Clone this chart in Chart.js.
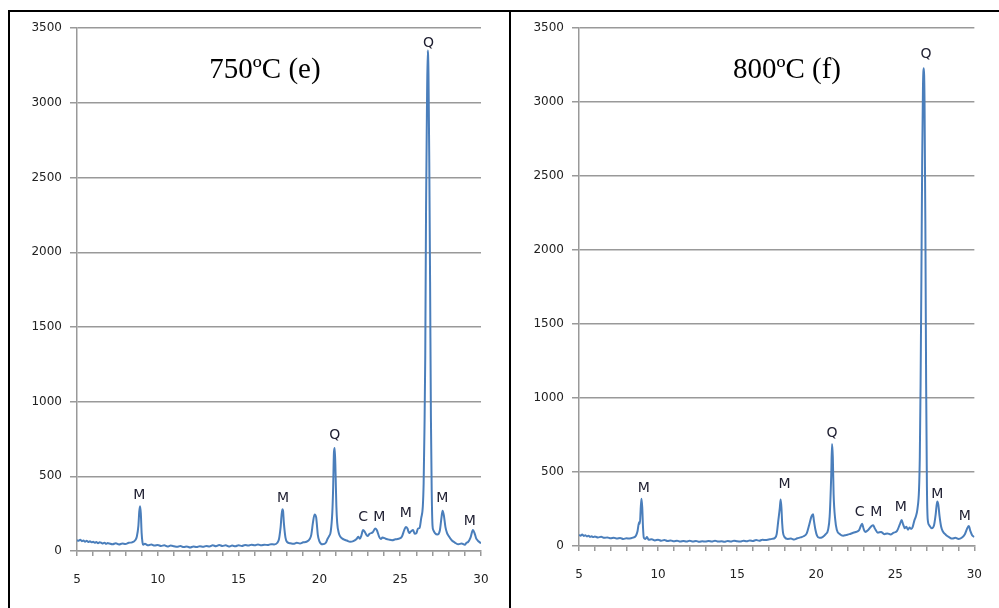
<!DOCTYPE html>
<html>
<head>
<meta charset="utf-8">
<script src="https://cdn.jsdelivr.net/npm/chart.js@4"></script>
<style>
  body { margin: 0; background: #fff; }
  #page { position: relative; width: 999px; height: 608px; overflow: hidden; }
  .line { position: absolute; background: #000; }
  canvas { position: absolute; }
  .title { position: absolute; width: 200px; text-align: center; font-family: "Liberation Serif", serif; font-size: 29px; line-height: 36px; color: #000; }
</style>
</head>
<body>
<div id="page">
  <div class="line" style="left:8px;top:10px;width:991px;height:2px"></div>
  <div class="line" style="left:8px;top:10px;width:2px;height:598px"></div>
  <div class="line" style="left:509px;top:10px;width:2px;height:598px"></div>
  <canvas id="chart750" style="left:10px;top:13px" width="498" height="595"></canvas>
  <canvas id="chart800" style="left:512px;top:13px" width="487" height="595"></canvas>
  <div class="title" style="left:165px;top:50px">750ºC (e)</div>
  <div class="title" style="left:687px;top:50px">800ºC (f)</div>
</div>
<script>
// 2-theta (deg) and intensity
const x750 = [5.0,5.1,5.2,5.3,5.4,5.5,5.6,5.7,5.8,5.9,6.0,6.1,6.2,6.3,6.4,6.5,6.6,6.7,6.8,6.9,7.0,7.2,7.4,7.6,7.8,8.0,8.2,8.4,8.6,8.7,8.8,8.85,8.9,8.95,9.0,9.05,9.1,9.2,9.4,9.6,9.8,10.0,10.2,10.4,10.6,10.8,11.0,11.2,11.4,11.6,11.8,12.0,12.2,12.4,12.6,12.8,13.0,13.2,13.4,13.6,13.8,14.0,14.2,14.4,14.6,14.8,15.0,15.2,15.4,15.6,15.8,16.0,16.2,16.4,16.6,16.8,17.0,17.2,17.4,17.5,17.6,17.7,17.75,17.8,17.9,18.0,18.2,18.4,18.6,18.8,19.0,19.2,19.4,19.5,19.6,19.7,19.8,19.85,19.9,20.0,20.2,20.4,20.5,20.6,20.7,20.8,20.85,20.9,20.95,21.0,21.05,21.1,21.2,21.3,21.5,21.7,21.9,22.1,22.3,22.4,22.5,22.6,22.7,22.8,22.9,23.0,23.1,23.3,23.45,23.55,23.7,23.8,23.9,24.1,24.3,24.5,24.7,24.9,25.1,25.25,25.35,25.45,25.55,25.65,25.8,25.9,26.0,26.1,26.2,26.3,26.4,26.45,26.5,26.55,26.6,26.65,26.7,26.75,26.8,26.85,26.9,26.95,27.0,27.05,27.15,27.3,27.45,27.55,27.62,27.7,27.8,27.9,28.0,28.2,28.4,28.6,28.8,29.0,29.1,29.2,29.35,29.5,29.6,29.7,29.8,29.9,30.0];
const y750 = [72,68,75,66,70,62,68,60,65,58,62,55,60,52,58,55,50,56,48,53,50,45,52,44,50,47,55,58,72,95,170,260,300,250,120,60,42,48,38,44,36,40,34,38,30,36,32,28,34,26,30,24,30,26,32,28,34,30,38,32,40,34,38,30,36,32,38,34,40,36,42,38,44,38,42,40,46,44,55,80,160,280,270,190,90,60,52,48,55,50,58,62,80,110,190,245,225,170,110,65,45,55,80,100,130,260,420,660,690,520,300,190,120,95,78,70,62,66,80,95,82,105,140,130,110,100,115,125,150,140,95,80,90,82,76,72,78,82,95,140,160,150,120,130,140,115,120,150,155,220,300,450,800,1300,2300,2900,3350,3200,2600,1800,900,400,170,140,120,110,135,220,270,240,160,120,100,70,55,45,50,42,55,60,90,140,120,85,70,60,52];

const x800 = [5.0,5.1,5.2,5.3,5.4,5.5,5.6,5.7,5.8,5.9,6.0,6.2,6.4,6.6,6.8,7.0,7.2,7.4,7.6,7.8,8.0,8.2,8.4,8.6,8.7,8.8,8.85,8.9,8.95,9.0,9.05,9.1,9.2,9.3,9.4,9.6,9.8,10.0,10.2,10.4,10.6,10.8,11.0,11.2,11.4,11.6,11.8,12.0,12.2,12.4,12.6,12.8,13.0,13.2,13.4,13.6,13.8,14.0,14.2,14.4,14.6,14.8,15.0,15.2,15.4,15.6,15.8,16.0,16.2,16.4,16.6,16.8,17.0,17.2,17.4,17.5,17.6,17.7,17.75,17.8,17.85,17.9,18.0,18.2,18.4,18.6,18.8,19.0,19.2,19.4,19.55,19.7,19.8,19.85,19.95,20.05,20.2,20.4,20.6,20.75,20.85,20.95,21.0,21.05,21.1,21.2,21.3,21.5,21.7,21.9,22.1,22.3,22.5,22.7,22.8,22.9,23.0,23.1,23.3,23.5,23.6,23.7,23.9,24.1,24.3,24.5,24.7,24.9,25.1,25.3,25.4,25.5,25.6,25.7,25.8,25.9,26.0,26.1,26.2,26.3,26.4,26.5,26.55,26.6,26.65,26.7,26.75,26.8,26.85,26.9,26.95,27.0,27.05,27.15,27.3,27.45,27.55,27.65,27.72,27.8,27.9,28.0,28.2,28.4,28.6,28.8,29.0,29.2,29.4,29.55,29.65,29.75,29.85,30.0];
const y800 = [75,70,78,68,72,65,70,62,66,60,64,58,62,55,58,52,56,50,54,48,52,50,56,70,100,160,150,250,320,260,120,55,48,60,42,46,38,42,36,40,34,38,32,36,30,34,30,36,30,34,28,32,30,34,30,36,30,32,28,34,30,36,32,30,36,32,38,34,40,36,42,40,44,48,56,80,170,260,315,260,150,90,60,48,50,44,52,58,66,85,140,200,215,175,110,70,55,60,80,110,200,480,690,600,350,180,110,80,70,75,80,88,95,105,130,150,115,95,110,135,140,120,90,95,80,85,78,90,100,150,175,145,120,130,110,125,115,130,170,200,250,380,600,1100,1800,2600,3100,3230,3000,2200,1100,400,180,140,120,140,210,300,280,200,130,100,75,60,50,55,48,56,80,120,135,100,75,60];

// phase marks: text, x position, y position (data units)
const tags750 = ['M','M','Q','C','M','M','Q','M','M'];
const tagX750 = [8.85,17.75,20.95,22.7,23.7,25.35,26.75,27.6,29.3];
const tagY750 = [370,355,775,225,225,255,3400,350,200];

const tags800 = ['M','M','Q','C','M','M','Q','M','M'];
const tagX800 = [9.1,18.0,21.0,22.75,23.8,25.35,26.95,27.65,29.4];
const tagY800 = [390,415,760,225,225,262,3320,350,197];

const gray = '#999999';

const tagPlugin = {
  id: 'tags',
  afterDatasetsDraw(chart, args, opts) {
    const c = chart.ctx, xs = chart.scales.x, ys = chart.scales.y;
    c.save();
    c.font = '14px "DejaVu Sans"';
    c.fillStyle = '#1e1e30';
    c.textAlign = 'center';
    c.textBaseline = 'middle';
    opts.text.forEach((t, i) => {
      c.fillText(t, xs.getPixelForValue(opts.x[i]), ys.getPixelForValue(opts.y[i]));
    });
    c.restore();
  }
};

function makeChart(id, xv, yv, tags, tx, ty, padRight, xHeight) {
  const pts = xv.map((x, i) => ({ x: x, y: yv[i] }));
  return new Chart(document.getElementById(id), {
    type: 'line',
    data: {
      datasets: [{
        data: pts,
        borderColor: '#4a7ebb',
        borderWidth: 2,
        borderJoinStyle: 'round',
        cubicInterpolationMode: 'monotone', // avoids the fast-path stubs on steep peaks
        pointRadius: 0
      }]
    },
    options: {
      responsive: false,
      animation: false,
      layout: { padding: { top: 11, right: padRight, left: 0, bottom: 0 } },
      plugins: {
        legend: { display: false },
        tooltip: { enabled: false },
        tags: { text: tags, x: tx, y: ty }
      },
      scales: {
        x: {
          type: 'linear',
          min: 5, max: 30,
          afterFit: s => { s.height = xHeight; },
          grid: { drawOnChartArea: false, color: gray, tickLength: 5, lineWidth: 1.5 },
          border: { color: gray, width: 1.5 },
          ticks: {
            stepSize: 1,
            autoSkip: false,
            maxRotation: 0,
            padding: 17,
            color: '#222',
            font: { family: 'DejaVu Sans', size: 12 },
            callback: v => (v % 5 === 0 ? String(v) : '')
          }
        },
        y: {
          min: 0, max: 3500,
          afterFit: s => { s.width = 67; },
          grid: { color: gray, tickLength: 7, lineWidth: 1.5 },
          border: { color: gray, width: 1.5 },
          ticks: {
            stepSize: 500,
            padding: 8,
            color: '#222',
            font: { family: 'DejaVu Sans', size: 12 },
            callback: v => String(v)
          }
        }
      }
    },
    plugins: [tagPlugin]
  });
}

makeChart('chart750', x750, y750, tags750, tagX750, tagY750, 27, 57);
makeChart('chart800', x800, y800, tags800, tagX800, tagY800, 17, 62);
</script>
</body>
</html>
